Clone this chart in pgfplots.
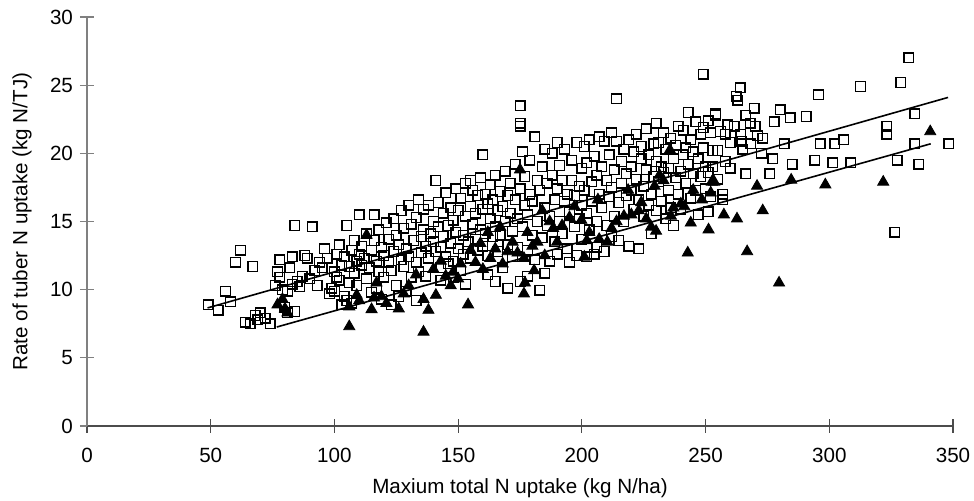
\documentclass[border=0pt]{standalone}
\usepackage{pgfplots}
\pgfplotsset{compat=1.18}
\usepackage{fontspec}
\setmainfont{Liberation Sans}
\usetikzlibrary{calc}
\begin{document}
\begin{tikzpicture}
\begin{axis}[
  name=ax,
  scale only axis,
  width=433pt, height=204.5pt,
  xmin=0, xmax=350, ymin=0, ymax=30,
  xtick={0,50,...,350}, ytick={0,5,...,30},
  axis x line*=bottom, axis y line*=left,
  x axis line style={-, black!70, line width=0.6pt},
  y axis line style={-, black!50, line width=0.6pt},
  tick align=center, major tick length=7pt,
  xtick style={black!70, line width=0.6pt},
  ytick style={black!50, line width=0.6pt},
  /pgf/number format/assume math mode=true,
  tick label style={font=\fontsize{10.3}{12}\selectfont},
  xticklabel style={yshift=-4pt},
  label style={font=\fontsize{10.3}{12}\selectfont},
  xlabel={Maxium total N uptake (kg N/ha)},
  ylabel={Rate of tuber N uptake (kg N/TJ)},
  xlabel style={at={(axis description cs:0.5,-0.152)}, anchor=center},
  ylabel style={at={(axis description cs:-0.075,0.5)}, anchor=center},
  clip=false,
]
\addplot[only marks, mark=square, mark size=2.4pt, mark options={black, line width=0.7pt, fill=none}] coordinates {
(49,8.9) (53,8.5) (56,9.9) (58,9.1) (60,12.0) (62,12.9) (64,7.6) (66,7.5) (67,11.7) (68,8.1) (69,7.8) (70,8.3) (72,7.9) (74,7.5) (76,10.3) (77,11.3) (78,10.9) (78,12.2) (79,10.0) (80,8.7) (81,8.3) (82,11.6) (83,12.4) (84,14.7) (85,10.6) (81,9.9) (83,10.4) (84,8.4)
(86,10.2) (87,11.0) (88,12.5) (89,12.3) (90,10.8) (91,14.6) (92,11.4) (93,10.3) (94,12.0) (95,11.6) (96,13.0) (97,12.3) (98,9.7) (99,10.1) (100,11.3) (100,9.9) (101,12.6) (102,10.7) (102,13.3) (103,11.8) (104,12.4) (105,14.7) (105,9.2) (106,10.5) (106,11.7) (107,12.9) (107,9.0) (108,13.6) (108,11.2) (109,12.1) (109,10.3) (110,12.6) (110,15.5) (104,9.5) (103,8.9) (101,10.9)
(111,11.8) (111,13.2) (112,12.3) (113,10.8) (113,14.1) (114,11.6) (115,12.9) (115,9.8) (116,15.5) (116,13.6) (117,12.1) (118,11.3) (118,14.4) (119,13.1) (120,12.5) (120,10.9) (121,14.9) (122,12.0) (122,13.7) (123,11.4) (124,15.2) (124,12.8) (125,10.3) (125,14.0) (126,13.3) (127,12.2) (127,15.8) (128,11.7) (128,14.5) (129,13.0) (130,12.4) (130,16.2) (131,10.9) (131,14.8) (132,13.6) (133,12.0) (133,15.3) (134,11.3) (134,16.6) (135,13.9) (135,12.7) (136,14.4) (136,15.9) (137,11.0) (137,13.2) (138,16.2) (138,12.3) (139,14.1) (140,13.5) (140,15.0) (126,9.5) (119,9.3) (123,8.9) (117,10.1) (129,9.9) (133,9.2)
(141,18.0) (141,12.8) (142,14.6) (142,16.4) (143,13.1) (143,11.6) (144,15.6) (144,13.9) (145,12.4) (145,17.1) (146,14.7) (146,11.9) (147,16.0) (147,13.4) (148,15.1) (148,12.1) (149,14.2) (149,17.4) (150,13.0) (150,15.8) (151,11.4) (151,16.7) (152,14.0) (152,12.6) (153,15.4) (153,17.8) (154,13.5) (155,18.0) (155,16.1) (155,12.3) (156,14.8) (156,17.3) (157,13.7) (157,15.6) (158,16.9) (158,12.9) (159,14.4) (159,18.2) (160,19.9) (160,15.9) (160,13.2) (161,17.0) (161,14.1) (162,16.3) (162,12.5) (163,15.2) (163,17.7) (164,13.9) (164,16.6) (165,14.6) (165,10.6) (165,18.4) (166,15.8) (166,12.8) (167,17.2) (167,14.0) (168,16.1) (168,11.6) (169,15.0) (169,18.7) (170,10.1) (170,13.3) (170,16.9) (143,10.7) (148,10.9) (153,10.4) (162,11.1)
(171,15.6) (171,17.8) (172,14.3) (172,12.4) (173,16.6) (173,19.2) (174,15.2) (174,13.1) (175,23.5) (175,22.2) (175,22.0) (175,10.6) (175,17.4) (176,14.6) (176,20.1) (177,16.2) (177,18.3) (178,12.9) (178,15.5) (179,17.0) (179,19.5) (180,14.0) (180,16.5) (181,21.2) (181,12.2) (182,18.0) (182,15.0) (183,17.3) (183,9.95) (184,13.8) (184,19.0) (185,16.0) (185,20.3) (186,14.7) (186,17.8) (187,12.1) (187,15.4) (188,20.0) (188,18.4) (189,16.6) (189,13.5) (190,20.8) (190,17.4) (191,15.0) (191,19.1) (192,14.1) (192,18.0) (193,16.5) (193,20.3) (194,13.0) (194,17.0) (195,12.0) (195,15.7) (196,19.5) (196,18.0) (197,14.6) (197,16.9) (198,20.8) (198,12.5) (199,17.6) (199,15.2) (200,18.9) (200,16.2) (200,13.7) (185,11.2) (190,12.6) (178,11.0)
(201,20.5) (201,17.3) (202,15.6) (202,19.3) (203,14.4) (203,21.0) (204,17.9) (204,16.5) (205,12.6) (205,19.8) (206,18.4) (206,15.0) (207,21.2) (207,17.0) (208,16.0) (208,19.0) (209,12.8) (209,20.9) (210,18.0) (210,14.7) (211,16.8) (211,19.9) (212,21.5) (212,17.5) (213,15.4) (213,18.8) (214,24.0) (214,20.9) (215,16.4) (215,13.6) (216,19.4) (216,17.8) (217,20.3) (217,15.0) (218,18.5) (218,16.9) (219,21.0) (219,13.2) (220,19.0) (220,17.3) (221,15.9) (221,20.1) (222,21.4) (222,18.1) (223,13.0) (223,16.6) (224,19.6) (224,20.5) (225,17.6) (225,15.4) (226,21.8) (226,18.8) (227,16.2) (227,19.9) (228,14.1) (228,17.0) (229,20.7) (229,18.3) (230,15.8) (230,19.4) (230,22.2) (212,13.9) (206,13.1) (202,12.4)
(231,20.8) (231,17.9) (232,16.5) (232,19.0) (233,21.5) (233,18.6) (234,15.2) (234,20.3) (235,17.3) (235,18.9) (236,16.0) (236,21.1) (237,19.6) (237,14.7) (238,18.2) (238,20.6) (239,17.0) (239,22.0) (240,18.7) (240,15.9) (241,19.9) (241,21.7) (242,17.8) (242,20.4) (243,23.0) (243,19.2) (244,16.7) (244,21.0) (245,18.5) (245,20.1) (246,17.3) (246,22.3) (247,19.6) (247,15.5) (248,21.4) (248,18.3) (249,25.8) (249,20.4) (249,21.9) (250,17.4) (250,19.0) (251,22.4) (251,18.6) (252,21.5) (252,16.8) (253,20.2) (253,19.0) (254,22.9) (254,22.8) (255,20.2) (255,18.1) (256,21.6) (257,17.0) (258,21.4) (258,19.4) (259,22.1) (260,20.8) (260,18.9) (251,15.7) (257,16.6)
(261.6,22.0) (262.3,24.2) (264,24.8) (264.3,21.4) (264.7,20.9) (266.2,22.8) (266.3,18.5) (268,22.2) (268.2,20.7) (269.6,23.3) (272.6,20.0) (273.2,21.1) (275.9,18.5) (277.2,19.6) (277.7,22.3) (280.1,23.2) (281.8,20.7) (284.2,22.6) (285,19.2) (290.7,22.7) (294.1,19.5) (295.6,24.3) (296.4,20.7) (301.4,19.3) (302.2,20.7) (305.9,21.0) (308.7,19.3) (312.6,24.9) (323.2,22.0) (323.2,21.4) (326.4,14.2) (327.4,19.5) (328.9,25.2) (332.1,27.0) (334.5,22.9) (334.5,20.7) (336.2,19.2) (348.3,20.7) (263,23.9) (265,20.3) (270,22.0) (271,21.3)
};
\addplot[only marks, mark=triangle*, mark size=3.2pt, mark options={black, fill=black}] coordinates {
(77,8.9) (79,9.3) (80,8.6) (81,8.3) (106,7.3) (106,8.75) (109,9.6) (110,9.2) (113,14.0) (115,8.55) (116,9.4) (117,10.5) (119,9.5) (121,9.0) (126,8.6) (128,9.7) (130,10.3) (133,11.1) (136,6.9) (136,9.3) (138,8.5) (140,11.5) (141,9.6) (143,12.1) (145,11.0) (147,10.3) (148,11.3) (150,10.8) (151,11.9) (154,8.9) (155,12.9) (157,12.0) (159,13.4) (160,11.5) (162,14.2) (163,12.3) (165,13.0) (167,14.6) (168,11.9) (170,12.8) (172,13.5) (174,12.7) (175,18.8) (176.6,9.7) (176.6,12.3) (177,10.5) (178,14.2) (180,13.2) (180.7,11.4) (182,13.5) (184,15.8) (185,12.5) (187,15.0) (188.4,14.5) (190,13.5) (192,14.7) (195,15.3) (197,16.1) (199.8,15.1) (201,12.4) (203,14.2) (206.5,16.6) (207,13.7) (210.3,13.5) (212,14.5) (214,15.0) (217,15.4) (218.7,17.3) (220,15.5) (223,15.8) (224,16.4) (226,15.2) (229.4,17.6) (230,14.3) (231.4,18.4) (233,18.0) (235.6,20.25) (237,16.0) (240,16.3) (241.4,16.1) (242.8,12.7) (244,14.9) (248.5,16.6) (251.2,14.4) (252.5,17.9) (253.5,17.9) (252.1,17.1) (257.4,15.5) (262.7,15.2) (266.8,12.8) (270.8,17.6) (273.1,15.8) (279.7,10.5) (284.6,18.05) (298.4,17.7) (321.8,17.9) (340.8,21.6) (236,15.4) (245,17.3) (228,14.6) (202,13.6)
};
\addplot[black, line width=0.8pt, no marks] coordinates {(48.7,8.66) (348,24.1)};
\addplot[black, line width=0.8pt, no marks] coordinates {(76.7,7.26) (341,20.7)};
\coordinate (ll) at (rel axis cs:0,0);
\coordinate (ur) at (rel axis cs:1,1);
\end{axis}
\pgfresetboundingbox
\path[use as bounding box] ($(ll)+(-43.5pt,-37.5pt)$) rectangle ($(ur)+(10.5pt,8.5pt)$);
\end{tikzpicture}
\end{document}
